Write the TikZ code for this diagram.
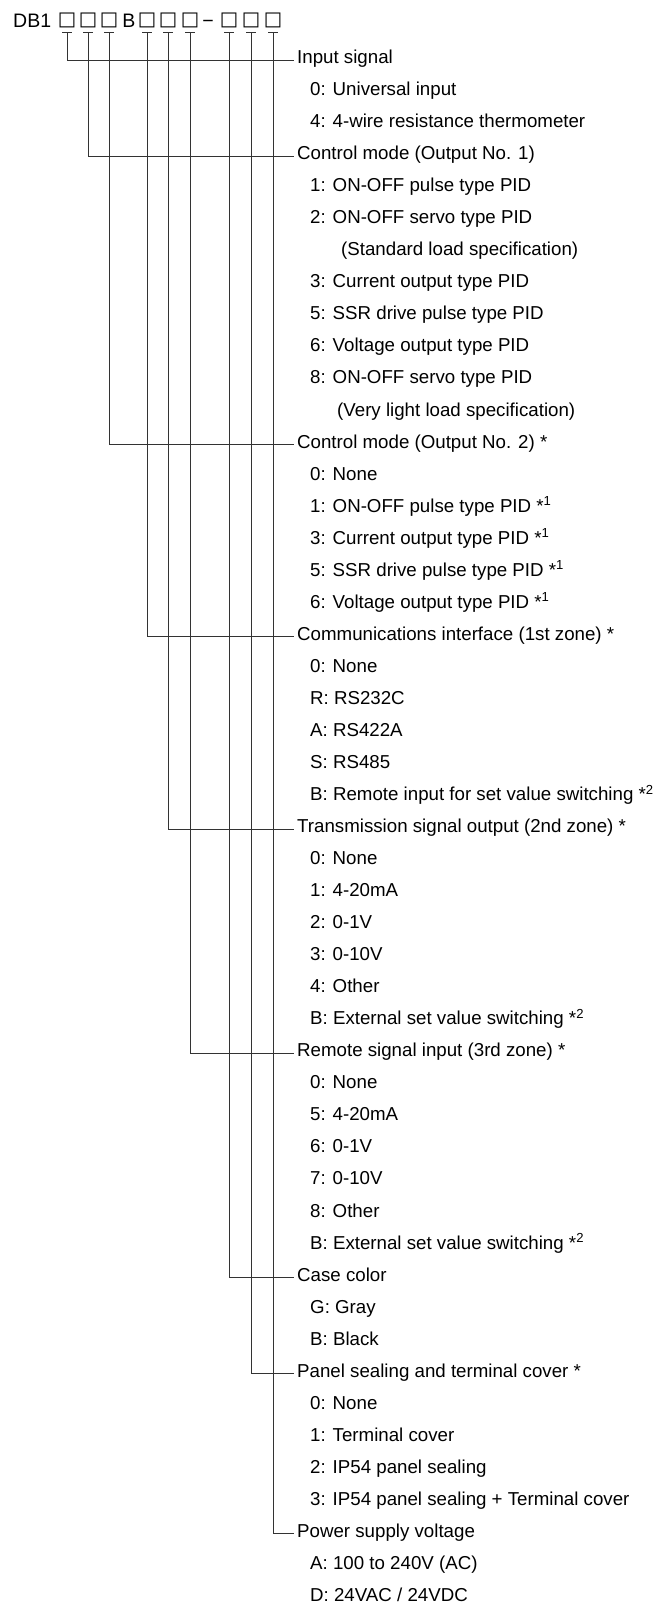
\documentclass[tikz,border=0pt]{standalone}
\usepackage{fontspec}
\setmainfont{Liberation Sans}
\newfontfamily\boxfont{DejaVu Sans}
\newcommand\RowY[1]{60+#1*32.04}
\newcommand\itm[3][310]{\node[lbl] (r#2) at (#1,{\RowY{#2}}) {#3};}
\newcommand\hd[3]{\node[head] (#1) at (294,{\RowY{#2}}) {#3};}
\begin{document}
\begin{tikzpicture}[x=1pt,y=-1pt,
  lbl/.style={anchor=west,inner xsep=0pt,inner ysep=0pt,text height=0.716em,text depth=0pt,font=\fontsize{18.7}{22}\selectfont},
  head/.style={lbl,inner xsep=3pt},
  wire/.style={line width=0.9pt,draw=black!80},
  hdr/.style={anchor=base,inner sep=0pt,font=\fontsize{19.5}{22}\selectfont},
  boxg/.style={anchor=base,inner sep=0pt,font=\boxfont\fontsize{19.5}{22}\selectfont}]
\useasboundingbox (0,0) rectangle (655,1604);
% header
\node[hdr,anchor=base west] (db) at (13,27) {DB1};
\node[boxg] (b1) at (67,25.5) {□};
\node[boxg] (b2) at (88,25.5) {□};
\node[boxg] (b3) at (109,25.5) {□};
\node[hdr] (bb) at (129,27) {B};
\node[boxg] (b4) at (147,25.5) {□};
\node[boxg] (b5) at (168,25.5) {□};
\node[boxg] (b6) at (190,25.5) {□};
\node[hdr] (dash) at (208,27) {−};
\node[boxg] (b7) at (229,25.5) {□};
\node[boxg] (b8) at (251,25.5) {□};
\node[boxg] (b9) at (273,25.5) {□};
% tick coordinates
\foreach \i/\x in {1/67,2/88,3/109,4/147,5/168,6/190,7/229,8/251,9/273}
  \coordinate (t\i) at (\x,32);
% headings
\hd{h1}{0}{Input signal}
\hd{h2}{3}{Control mode (Output No. 1)}
\hd{h3}{12}{Control mode (Output No. 2) *}
\hd{h4}{18}{Communications interface (1st zone) *}
\hd{h5}{24}{Transmission signal output (2nd zone) *}
\hd{h6}{31}{Remote signal input (3rd zone) *}
\hd{h7}{38}{Case color}
\hd{h8}{41}{Panel sealing and terminal cover *}
\hd{h9}{46}{Power supply voltage}
% items
\itm{1}{0: Universal input}
\itm{2}{4: 4-wire resistance thermometer}
\itm{4}{1: ON-OFF pulse type PID}
\itm{5}{2: ON-OFF servo type PID}
\itm[341]{6}{(Standard load specification)}
\itm{7}{3: Current output type PID}
\itm{8}{5: SSR drive pulse type PID}
\itm{9}{6: Voltage output type PID}
\itm{10}{8: ON-OFF servo type PID}
\itm[337]{11}{(Very light load specification)}
\itm{13}{0: None}
\itm{14}{1: ON-OFF pulse type PID *\textsuperscript{1}}
\itm{15}{3: Current output type PID *\textsuperscript{1}}
\itm{16}{5: SSR drive pulse type PID *\textsuperscript{1}}
\itm{17}{6: Voltage output type PID *\textsuperscript{1}}
\itm{19}{0: None}
\itm{20}{R: RS232C}
\itm{21}{A: RS422A}
\itm{22}{S: RS485}
\itm{23}{B: Remote input for set value switching *\textsuperscript{2}}
\itm{25}{0: None}
\itm{26}{1: 4-20mA}
\itm{27}{2: 0-1V}
\itm{28}{3: 0-10V}
\itm{29}{4: Other}
\itm{30}{B: External set value switching *\textsuperscript{2}}
\itm{32}{0: None}
\itm{33}{5: 4-20mA}
\itm{34}{6: 0-1V}
\itm{35}{7: 0-10V}
\itm{36}{8: Other}
\itm{37}{B: External set value switching *\textsuperscript{2}}
\itm{39}{G: Gray}
\itm{40}{B: Black}
\itm{42}{0: None}
\itm{43}{1: Terminal cover}
\itm{44}{2: IP54 panel sealing}
\itm{45}{3: IP54 panel sealing + Terminal cover}
\itm{47}{A: 100 to 240V (AC)}
\itm{48}{D: 24VAC / 24VDC}
% connectors
\foreach \i in {1,...,9}{
  \draw[wire] ([xshift=-5pt]t\i) -- ([xshift=5pt]t\i);
  \draw[wire] (t\i) |- (h\i.west);
}
\end{tikzpicture}
\end{document}
